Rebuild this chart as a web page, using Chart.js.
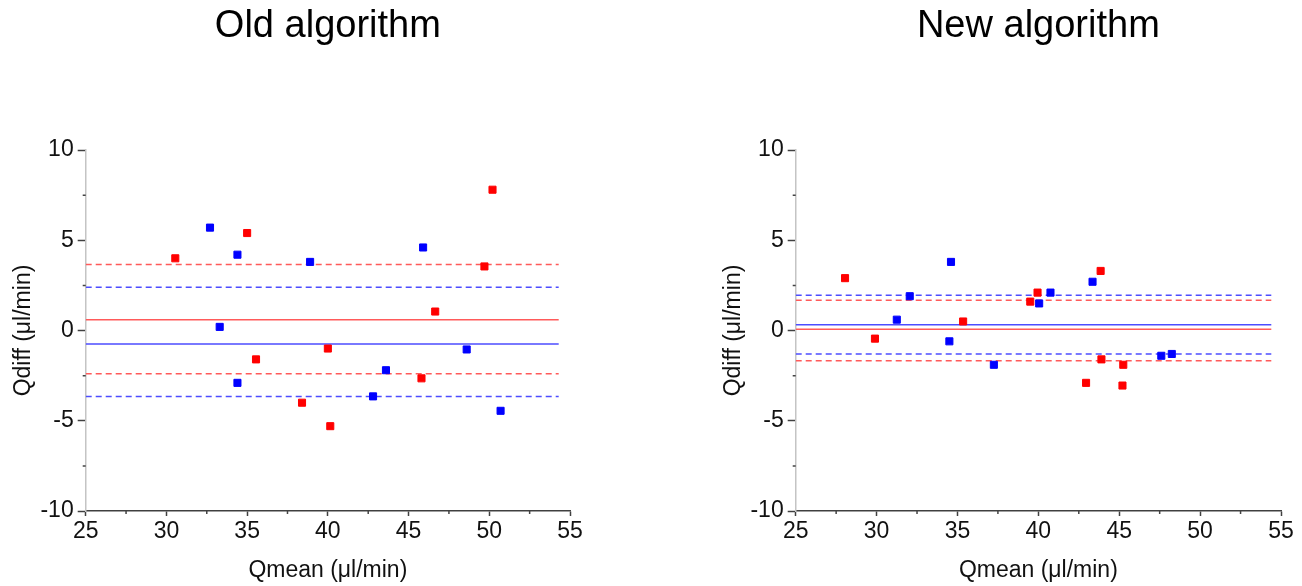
<!DOCTYPE html>
<html>
<head>
<meta charset="utf-8">
<script src="https://cdn.jsdelivr.net/npm/chart.js@4.4.0/dist/chart.umd.min.js"></script>
<style>
body{margin:0;background:#fff;width:1302px;height:586px;overflow:hidden;position:relative}
canvas{position:absolute;top:0}
#oldChart{left:0}
#newChart{left:651px}
</style>
</head>
<body>
<canvas id="oldChart" width="651" height="586"></canvas>
<canvas id="newChart" width="651" height="586"></canvas>
<script>
// tick values
const xMinorTicks = [27.5, 32.5, 37.5, 42.5, 47.5, 52.5];
const yMinorTicks = [7.5, 2.5, -2.5, -7.5];

// Old algorithm
const oldRedX = [30.55, 35.0, 35.55, 38.4, 40.0, 40.15, 45.8, 46.65, 49.7, 50.2];
const oldRedY = [4.0, 5.4, -1.6, -4.0, -1.0, -5.3, -2.65, 1.05, 3.55, 7.8];
const oldBlueX = [32.7, 34.4, 33.3, 34.4, 38.9, 42.8, 43.6, 45.9, 48.6, 50.7];
const oldBlueY = [5.7, 4.2, 0.2, -2.9, 3.8, -3.65, -2.2, 4.6, -1.05, -4.45];
const oldRedLines = [0.6, 3.65, -2.4];    // mean, upper, lower
const oldBlueLines = [-0.75, 2.4, -3.65];

// New algorithm
const newRedX = [28.05, 29.9, 35.35, 39.5, 39.95, 42.95, 43.85, 43.9, 45.2, 45.25];
const newRedY = [2.9, -0.45, 0.5, 1.6, 2.1, -2.9, 3.3, -1.6, -3.05, -1.9];
const newBlueX = [31.25, 32.05, 34.6, 34.5, 37.25, 40.05, 40.75, 43.35, 47.6, 48.25];
const newBlueY = [0.6, 1.9, 3.8, -0.6, -1.9, 1.5, 2.1, 2.7, -1.4, -1.3];
const newRedLines = [0.07, 1.67, -1.67];
const newBlueLines = [0.32, 1.95, -1.3];

const lineStart = 25;
const oldLineEnd = 54.3;
const newLineEnd = 54.4;

const RED = '#ff0000', BLUE = '#0000ff';
const RED_LINE = '#ff5a5a', BLUE_LINE = '#4d4dff';
const FONT = "'Liberation Sans', Arial, sans-serif";

function points(xs, ys, color) {
  return {
    data: xs.map((v, i) => ({x: v, y: ys[i]})),
    pointStyle: 'rect',
    pointRadius: 5,
    pointBorderWidth: 1,
    backgroundColor: color,
    borderColor: color,
    order: 0
  };
}

function hline(y, color, dashed, xEnd) {
  return {
    data: [{x: lineStart, y: y}, {x: xEnd, y: y}],
    showLine: true,
    pointRadius: 0,
    borderColor: color,
    borderWidth: 1.5,
    borderDash: dashed ? [6, 4] : [],
    order: 1
  };
}

function lineSets(vals, color, xEnd) {
  return [hline(vals[0], color, false, xEnd), hline(vals[1], color, true, xEnd), hline(vals[2], color, true, xEnd)];
}

const minorTicks = {
  id: 'minorTicks',
  afterDraw(chart) {
    const ctx = chart.ctx, a = chart.chartArea;
    const xs = chart.scales.x, ys = chart.scales.y;
    ctx.save();
    ctx.strokeStyle = '#444';
    ctx.lineWidth = 1.5;
    ctx.beginPath();
    xMinorTicks.forEach(v => {
      const px = xs.getPixelForValue(v);
      ctx.moveTo(px, a.bottom);
      ctx.lineTo(px, a.bottom + 3);
    });
    yMinorTicks.forEach(v => {
      const py = ys.getPixelForValue(v);
      ctx.moveTo(a.left - 3, py);
      ctx.lineTo(a.left, py);
    });
    ctx.stroke();
    ctx.restore();
  }
};

function makeChart(id, title, datasets, padLeft, padRight) {
  return new Chart(document.getElementById(id).getContext('2d'), {
    type: 'scatter',
    data: {datasets: datasets},
    options: {
      responsive: false,
      animation: false,
      layout: {padding: {left: padLeft, right: padRight, top: 0, bottom: 0}},
      plugins: {
        legend: {display: false},
        tooltip: {enabled: false},
        title: {
          display: true,
          text: title,
          fullSize: false,
          color: '#000',
          font: {family: FONT, size: 38, weight: 'normal'},
          padding: {top: 4, bottom: 100.4}
        }
      },
      scales: {
        x: {
          type: 'linear',
          min: 25,
          max: 55,
          afterFit: s => { s.height = 75; },
          border: {display: true, color: '#404040', width: 1.5},
          grid: {drawOnChartArea: false, drawTicks: true, tickLength: 5, tickColor: '#404040', tickWidth: 1.5},
          ticks: {stepSize: 5, padding: 2, color: '#111', font: {family: FONT, size: 23}, maxRotation: 0},
          title: {display: true, text: 'Qmean (\u03bcl/min)', color: '#111', font: {family: FONT, size: 23}, padding: {top: 0, bottom: 2}}
        },
        y: {
          type: 'linear',
          min: -10,
          max: 10,
          afterFit: s => { s.width = 85.7; },
          border: {display: true, color: '#c4c4c4', width: 1.5},
          grid: {drawOnChartArea: false, drawTicks: true, tickLength: 8, tickColor: '#404040', tickWidth: 1.5},
          ticks: {stepSize: 5, padding: 4, color: '#111', font: {family: FONT, size: 23}},
          title: {display: true, text: 'Qdiff (\u03bcl/min)', color: '#111', font: {family: FONT, size: 23}, padding: {top: 10, bottom: 0}}
        }
      }
    },
    plugins: [minorTicks]
  });
}

makeChart('oldChart', 'Old algorithm', [
  points(oldRedX, oldRedY, RED),
  points(oldBlueX, oldBlueY, BLUE),
  ...lineSets(oldRedLines, RED_LINE, oldLineEnd),
  ...lineSets(oldBlueLines, BLUE_LINE, oldLineEnd)
], 0, 81);

makeChart('newChart', 'New algorithm', [
  points(newRedX, newRedY, RED),
  points(newBlueX, newBlueY, BLUE),
  ...lineSets(newRedLines, RED_LINE, newLineEnd),
  ...lineSets(newBlueLines, BLUE_LINE, newLineEnd)
], 59, 21);
</script>
</body>
</html>
